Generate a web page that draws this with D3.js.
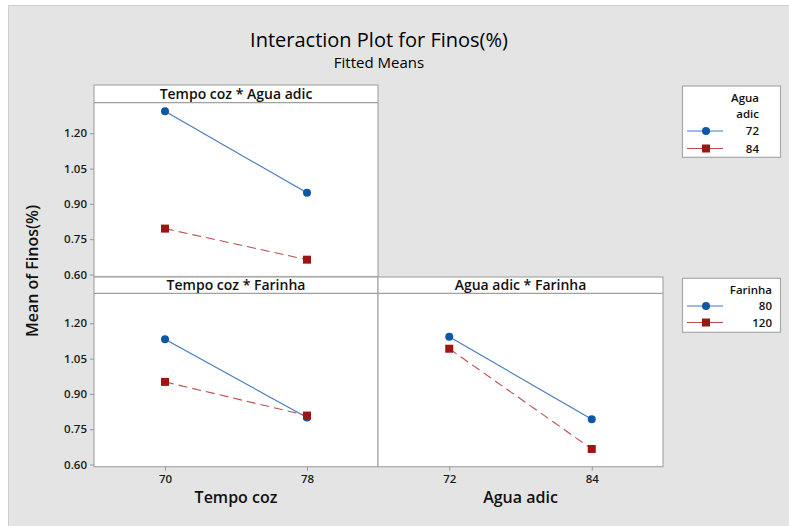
<!DOCTYPE html>
<html>
<head>
<meta charset="utf-8">
<script src="https://cdn.jsdelivr.net/npm/d3@7"></script>
<style>
  html, body { margin: 0; padding: 0; background: #ffffff; }
  svg { display: block; font-family: "Open Sans", "Noto Sans", sans-serif; }
</style>
</head>
<body>
<svg id="chart" width="789" height="526"></svg>
<script>
// Factor levels
const tempoLevels = [70, 78];
const aguaLevels = [72, 84];
const farinhaLevels = [80, 120];

// Fitted means: Tempo coz x Agua adic (one series per Agua adic level)
const tempoAgua72 = [1.294, 0.947];
const tempoAgua84 = [0.795, 0.663];

// Fitted means: Tempo coz x Farinha (one series per Farinha level)
const tempoFarinha80 = [1.132, 0.800];
const tempoFarinha120 = [0.951, 0.808];

// Fitted means: Agua adic x Farinha (one series per Farinha level)
const aguaFarinha80 = [1.143, 0.792];
const aguaFarinha120 = [1.092, 0.666];

const yTicks = [0.60, 0.75, 0.90, 1.05, 1.20];

const blue = { line: "#4178bf", mark: "#0d58a6", dash: null, shape: "circle" };
const red = { line: "#bb4e4e", mark: "#9c1616", dash: "9,5", shape: "square" };

const svg = d3.select("#chart");

// Page background
svg.append("rect").attr("x", 8.5).attr("y", 5.5).attr("width", 781).attr("height", 521)
  .attr("fill", "#e4e4e4").attr("stroke", "#cfcfcf");

// Titles
svg.append("text").attr("x", 379).attr("y", 47).attr("text-anchor", "middle")
  .attr("font-size", 20).attr("fill", "#000").text("Interaction Plot for Finos(%)");
svg.append("text").attr("x", 379).attr("y", 68).attr("text-anchor", "middle")
  .attr("font-size", 15).attr("fill", "#000").text("Fitted Means");

// Y axis title
svg.append("text").attr("transform", "translate(38,271) rotate(-90)")
  .attr("text-anchor", "middle").attr("font-size", 16).attr("font-weight", 600)
  .attr("fill", "#111").text("Mean of Finos(%)");

const panels = [
  { x0: 94, x1: 378, hTop: 85, hBot: 102.7, yTop: 133.3, yBot: 274.5, bottom: 276.5,
    title: "Tempo coz * Agua adic", levels: tempoLevels, yAxis: true, xAxis: false,
    series: [{ v: tempoAgua72, s: blue }, { v: tempoAgua84, s: red }] },
  { x0: 94, x1: 378, hTop: 277, hBot: 293.3, yTop: 323.3, yBot: 464.5, bottom: 466.7,
    title: "Tempo coz * Farinha", levels: tempoLevels, yAxis: true, xAxis: true, xTitle: "Tempo coz",
    series: [{ v: tempoFarinha80, s: blue }, { v: tempoFarinha120, s: red }] },
  { x0: 378, x1: 663, hTop: 277, hBot: 293.3, yTop: 323.3, yBot: 464.5, bottom: 466.7,
    title: "Agua adic * Farinha", levels: aguaLevels, yAxis: false, xAxis: true, xTitle: "Agua adic",
    series: [{ v: aguaFarinha80, s: blue }, { v: aguaFarinha120, s: red }] }
];

function drawMarker(g, shape, cx, cy, color, size) {
  if (shape === "circle") {
    g.append("circle").attr("cx", cx).attr("cy", cy).attr("r", size / 2).attr("fill", color);
  } else {
    g.append("rect").attr("x", cx - size / 2).attr("y", cy - size / 2)
      .attr("width", size).attr("height", size).attr("fill", color);
  }
}

panels.forEach(p => {
  const g = svg.append("g");
  // Plot area and header strip
  g.append("rect").attr("x", p.x0).attr("y", p.hTop).attr("width", p.x1 - p.x0)
    .attr("height", p.bottom - p.hTop).attr("fill", "#ffffff")
    .attr("stroke", "#a8a8a8").attr("stroke-width", 1.2);
  g.append("line").attr("x1", p.x0).attr("x2", p.x1).attr("y1", p.hBot).attr("y2", p.hBot)
    .attr("stroke", "#a0a0a0").attr("stroke-width", 1.2);
  g.append("text").attr("x", (p.x0 + p.x1) / 2).attr("y", (p.hTop + p.hBot) / 2 + 5)
    .attr("text-anchor", "middle").attr("font-size", 14).attr("font-weight", 600)
    .attr("fill", "#111").text(p.title);

  const x = d3.scalePoint().domain(p.levels).range([p.x0, p.x1]).padding(0.5);
  const y = d3.scaleLinear().domain([0.60, 1.20]).range([p.yBot, p.yTop]);

  if (p.yAxis) {
    const ax = g.append("g").attr("transform", `translate(${p.x0},0)`)
      .call(d3.axisLeft(y).tickValues(yTicks).tickFormat(d3.format(".2f")).tickSize(4).tickPadding(3));
    ax.select(".domain").remove();
    ax.selectAll("line").attr("stroke", "#999");
    ax.selectAll("text").attr("font-size", 11.5).attr("font-weight", 600).attr("fill", "#1a1a1a")
      .attr("font-family", "'Open Sans', 'Noto Sans', sans-serif");
  }
  if (p.xAxis) {
    const ax = g.append("g").attr("transform", `translate(0,${p.bottom})`)
      .call(d3.axisBottom(x).tickSize(4).tickPadding(4));
    ax.select(".domain").remove();
    ax.selectAll("line").attr("stroke", "#999");
    ax.selectAll("text").attr("font-size", 11.5).attr("font-weight", 600).attr("fill", "#1a1a1a")
      .attr("font-family", "'Open Sans', 'Noto Sans', sans-serif");
    g.append("text").attr("x", (p.x0 + p.x1) / 2).attr("y", 503).attr("text-anchor", "middle")
      .attr("font-size", 16).attr("font-weight", 600).attr("fill", "#111").text(p.xTitle);
  }

  p.series.forEach(sr => {
    const pts = p.levels.map((lv, i) => [x(lv), y(sr.v[i])]);
    g.append("path").attr("d", d3.line()(pts)).attr("fill", "none")
      .attr("stroke", sr.s.line).attr("stroke-width", 1.1)
      .attr("stroke-dasharray", sr.s.dash);
    pts.forEach(pt => drawMarker(g, sr.s.shape, pt[0], pt[1], sr.s.mark, 8));
  });
});

// Legends
const legends = [
  { y0: 86, y1: 157.3, titleLines: ["Agua", "adic"], titleY: 102, rowY: [131, 148.5],
    labels: aguaLevels, textX: 759 },
  { y0: 278.3, y1: 332.3, titleLines: ["Farinha"], titleY: 294, rowY: [306, 322.5],
    labels: farinhaLevels, textX: 772 }
];
legends.forEach(L => {
  const g = svg.append("g");
  g.append("rect").attr("x", 682.5).attr("y", L.y0).attr("width", 98).attr("height", L.y1 - L.y0)
    .attr("fill", "#ffffff").attr("stroke", "#a8a8a8").attr("stroke-width", 1.2);
  L.titleLines.forEach((t, i) => {
    g.append("text").attr("x", L.textX).attr("y", L.titleY + i * 16).attr("text-anchor", "end")
      .attr("font-size", 11.5).attr("font-weight", 600).attr("fill", "#111").text(t);
  });
  [blue, red].forEach((s, i) => {
    const ry = L.rowY[i];
    g.append("line").attr("x1", 687).attr("x2", 723).attr("y1", ry).attr("y2", ry)
      .attr("stroke", s.line).attr("stroke-width", 1.1);
    drawMarker(g, s.shape, 706, ry, s.mark, 8);
    g.append("text").attr("x", L.textX).attr("y", ry + 4).attr("text-anchor", "end")
      .attr("font-size", 11.5).attr("font-weight", 600).attr("fill", "#111").text(L.labels[i]);
  });
});
</script>
</body>
</html>
